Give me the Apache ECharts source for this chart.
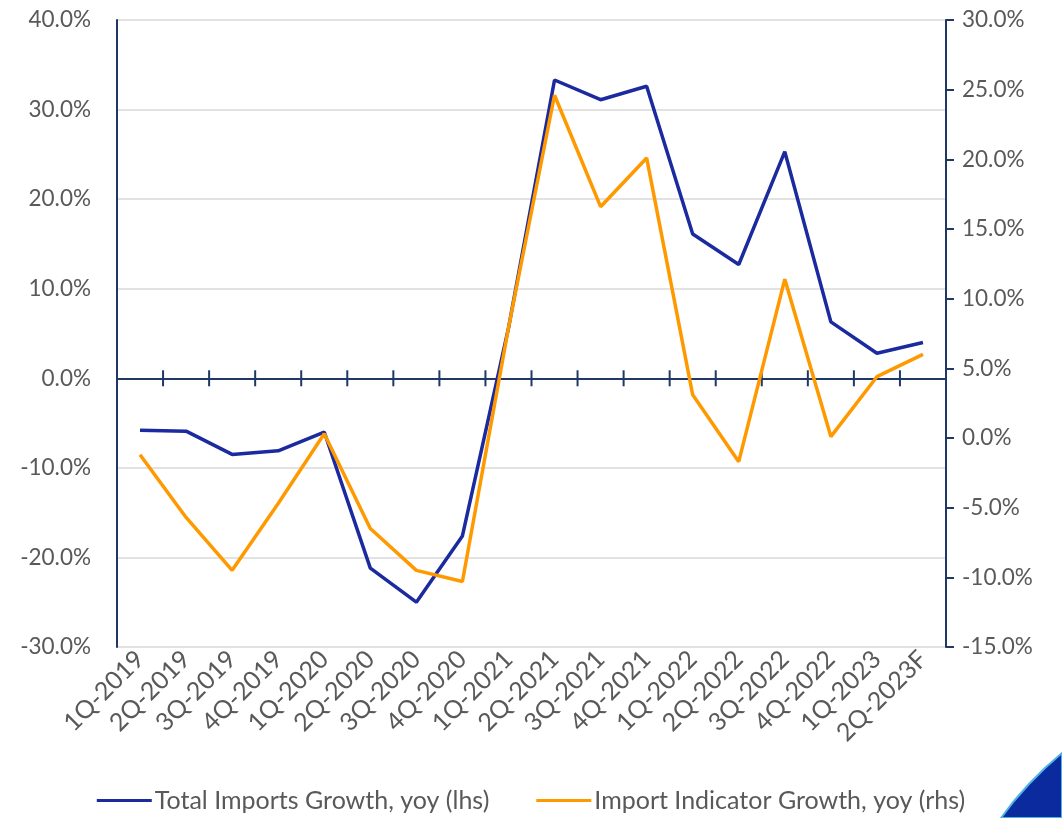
<!DOCTYPE html>
<html>
<head>
<meta charset="utf-8">
<script src="https://cdn.jsdelivr.net/npm/echarts@6/dist/echarts.min.js"></script>
<style>
  html, body { margin: 0; padding: 0; background: #fff; }
  #chart { width: 1062px; height: 818px; }
</style>
</head>
<body>
<div id="chart"></div>
<script>
var categories = ['1Q-2019', '2Q-2019', '3Q-2019', '4Q-2019', '1Q-2020', '2Q-2020', '3Q-2020', '4Q-2020',
  '1Q-2021', '2Q-2021', '3Q-2021', '4Q-2021', '1Q-2022', '2Q-2022', '3Q-2022', '4Q-2022', '1Q-2023', '2Q-2023F'];

// yoy %, left axis
var totalImports = [-5.8, -5.9, -8.5, -8.1, -6.0, -21.2, -25.0, -17.6,
  5.6, 33.3, 31.1, 32.6, 16.1, 12.7, 25.3, 6.3, 2.8, 4.0];

// yoy %, right axis
var importIndicator = [-1.2, -5.7, -9.5, -4.7, 0.3, -6.5, -9.5, -10.3,
  7.9, 24.6, 16.6, 20.1, 3.1, -1.7, 11.4, 0.1, 4.4, 6.0];

var leftTicks = { min: -30, max: 40, interval: 10 };
var rightTicks = { min: -15, max: 30, interval: 5 };

var axisColor = '#1F3864';
var textColor = '#595959';
var font = 'Lato, "Open Sans", sans-serif';

var myChart = echarts.init(document.getElementById('chart'));

var pct = function (v) { return v.toFixed(1) + '%'; };

// category boundary ticks that cross the zero line
var renderZeroTicks = function (params, api) {
  var p = api.coord([api.value(0), 0]);
  var bw = api.size([1, 0])[0];
  var style = { stroke: axisColor, lineWidth: 2 };
  var xs = [p[0] - bw / 2];
  if (params.dataIndex === categories.length - 1) xs.push(p[0] + bw / 2);
  return {
    type: 'group',
    children: xs.map(function (x) {
      return { type: 'line', shape: { x1: x, y1: p[1] - 8, x2: x, y2: p[1] + 8 }, style: style };
    })
  };
};

var option = {
  animation: false,
  textStyle: { fontFamily: font },
  grid: { left: 117, right: 116, top: 20, bottom: 171 },
  legend: {
    bottom: 0,
    left: 'center',
    itemWidth: 55,
    itemHeight: 3,
    itemGap: 47,
    icon: 'rect',
    textStyle: { fontSize: 25, color: textColor, fontFamily: font, padding: [0, 0, 0, -2] },
    data: ['Total Imports Growth, yoy (lhs)', 'Import Indicator Growth, yoy (rhs)']
  },
  xAxis: [
    {
      type: 'category',
      data: categories,
      boundaryGap: true,
      axisLine: { onZero: true, onZeroAxisIndex: 0, lineStyle: { color: axisColor, width: 2 } },
      axisTick: { show: false },
      axisLabel: { show: false },
      splitLine: { show: false }
    },
    {
      type: 'category',
      data: categories,
      position: 'bottom',
      boundaryGap: true,
      axisLine: { show: false, onZero: false },
      axisTick: { show: false },
      axisLabel: { rotate: 45, fontSize: 25, color: textColor, margin: 8, interval: 0, fontFamily: font },
      splitLine: { show: false }
    }
  ],
  yAxis: [
    {
      type: 'value',
      position: 'left',
      min: leftTicks.min,
      max: leftTicks.max,
      interval: leftTicks.interval,
      axisLine: { show: true, onZero: false, lineStyle: { color: axisColor, width: 2 } },
      axisTick: { show: false },
      axisLabel: { formatter: pct, fontSize: 22.5, color: textColor, margin: 26, fontFamily: font },
      splitLine: { show: true, lineStyle: { color: '#D9D9D9', width: 1.5 } }
    },
    {
      type: 'value',
      position: 'right',
      min: rightTicks.min,
      max: rightTicks.max,
      interval: rightTicks.interval,
      axisLine: { show: true, onZero: false, lineStyle: { color: axisColor, width: 2 } },
      axisTick: { show: true, length: 8, lineStyle: { color: axisColor, width: 2 } },
      axisLabel: { formatter: pct, fontSize: 22.5, color: textColor, margin: 16, fontFamily: font },
      splitLine: { show: false }
    }
  ],
  series: [
    {
      type: 'custom',
      xAxisIndex: 0,
      yAxisIndex: 0,
      silent: true,
      z: 2,
      data: categories.map(function (c, i) { return [i, 0]; }),
      renderItem: renderZeroTicks
    },
    {
      name: 'Total Imports Growth, yoy (lhs)',
      type: 'line',
      xAxisIndex: 0,
      yAxisIndex: 0,
      data: totalImports,
      symbol: 'none',
      z: 3,
      lineStyle: { color: '#1B2A9E', width: 3.5 },
      itemStyle: { color: '#1B2A9E' }
    },
    {
      name: 'Import Indicator Growth, yoy (rhs)',
      type: 'line',
      xAxisIndex: 0,
      yAxisIndex: 1,
      data: importIndicator,
      symbol: 'none',
      z: 4,
      lineStyle: { color: '#FF9900', width: 3.5 },
      itemStyle: { color: '#FF9900' }
    }
  ],
  graphic: [
    {
      type: 'polygon',
      silent: true,
      shape: { points: [[1001, 818], [1014, 801], [1029, 784], [1045, 768], [1062, 753], [1062, 818]] },
      style: { fill: '#0A2A9E', stroke: '#4FB3E8', lineWidth: 2 }
    }
  ]
};

myChart.setOption(option);

window.addEventListener('resize', function () {
  myChart.resize();
});
</script>
</body>
</html>
